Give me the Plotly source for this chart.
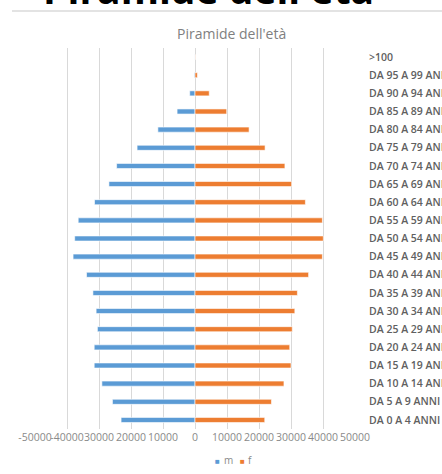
import plotly.graph_objects as go

categories = ["DA 0 A 4 ANNI", "DA 5 A 9 ANNI", "DA 10 A 14 ANNI", "DA 15 A 19 ANNI",
              "DA 20 A 24 ANNI", "DA 25 A 29 ANNI", "DA 30 A 34 ANNI", "DA 35 A 39 ANNI",
              "DA 40 A 44 ANNI", "DA 45 A 49 ANNI", "DA 50 A 54 ANNI", "DA 55 A 59 ANNI",
              "DA 60 A 64 ANNI", "DA 65 A 69 ANNI", "DA 70 A 74 ANNI", "DA 75 A 79 ANNI",
              "DA 80 A 84 ANNI", "DA 85 A 89 ANNI", "DA 90 A 94 ANNI", "DA 95 A 99 ANNI", ">100"]
males = [23100, 25800, 29100, 31500, 31500, 30500, 30900, 31900,
         33900, 38100, 37600, 36500, 31400, 26900, 24500, 18100,
         11600, 5600, 1650, 250, 30]
females = [21800, 23900, 27800, 30000, 29600, 30400, 31200, 32000,
           35500, 39800, 40100, 39800, 34500, 30200, 28100, 21900,
           16900, 9900, 4450, 750, 60]
tick_vals = [-50000, -40000, -30000, -20000, -10000, 0, 10000, 20000, 30000, 40000, 50000]
tick_text = ["-50000", "-40000", "30000", "20000", "10000", "0",
             "10000", "20000", "30000", "40000", "50000"]
series_names = ["m", "f"]
series_colors = ["#5B9BD5", "#ED7D31"]

W, H = 442, 474
ml, mr, mt, mb = 35, 87, 48, 45
ph = H - mt - mb
pw = W - ml - mr

def py(pix):
    return 1 - (pix - mt) / ph

def px(pix):
    return (pix - ml) / pw

fig = go.Figure()
fig.add_trace(go.Bar(y=categories, x=[-v for v in males], name=series_names[0], orientation="h",
                     marker=dict(color=series_colors[0], line=dict(color="white", width=0.6)),
                     showlegend=False))
fig.add_trace(go.Bar(y=categories, x=females, name=series_names[1], orientation="h",
                     marker=dict(color=series_colors[1], line=dict(color="white", width=0.6)),
                     showlegend=False))

legend_ann = [
    dict(text="<span style='color:%s'>■</span>" % series_colors[0], x=px(217), y=py(460)),
    dict(text=series_names[0], x=px(228), y=py(460)),
    dict(text="<span style='color:%s'>■</span>" % series_colors[1], x=px(242.5), y=py(460)),
    dict(text=series_names[1], x=px(250), y=py(460)),
]
for a in legend_ann:
    a.update(xref="paper", yref="paper", xanchor="center", yanchor="middle", showarrow=False,
             font=dict(size=10, color="#8a8a8a", family="Open Sans"))
legend_ann[0]["font"]["size"] = 8
legend_ann[2]["font"]["size"] = 8

fig.update_layout(
    width=W, height=H,
    margin=dict(l=ml, r=mr, t=mt, b=mb, autoexpand=False),
    barmode="overlay", bargap=0.72,
    paper_bgcolor="white", plot_bgcolor="white",
    font=dict(family="Open Sans", color="#7f7f7f", size=10),
    showlegend=False,
    xaxis=dict(range=[-50000, 50000], tickvals=tick_vals, ticktext=tick_text,
               showgrid=True, gridcolor="#d9d9d9", gridwidth=1,
               zeroline=True, zerolinecolor="#d9d9d9", zerolinewidth=1,
               showline=False, tickangle=0, automargin=False,
               tickfont=dict(size=10.5, color="#8a8a8a"), fixedrange=True),
    yaxis=dict(side="right", showgrid=False, zeroline=False, showline=False,
               ticks="outside", ticklen=11, tickcolor="rgba(0,0,0,0)", automargin=False,
               tickfont=dict(size=10.5, color="#606060", family="Open Sans", weight=600),
               categoryorder="array", categoryarray=categories, fixedrange=True),
    annotations=[
        dict(text="<b>Piramide dell'età</b>", xref="paper", yref="paper",
             x=px(208.5), y=py(17), xanchor="center", yanchor="bottom", showarrow=False,
             font=dict(size=39, color="black", family="Open Sans")),
        dict(text="Piramide dell'età", xref="paper", yref="paper",
             x=px(231), y=py(33), xanchor="center", yanchor="middle", showarrow=False,
             font=dict(size=14, color="#7f7f7f", family="Open Sans")),
    ] + legend_ann,
    shapes=[
        dict(type="line", xref="paper", yref="paper", x0=px(12), x1=px(442),
             y0=py(11), y1=py(11), line=dict(color="#e3e3e3", width=2)),
    ],
)

fig.write_html("out.html")
